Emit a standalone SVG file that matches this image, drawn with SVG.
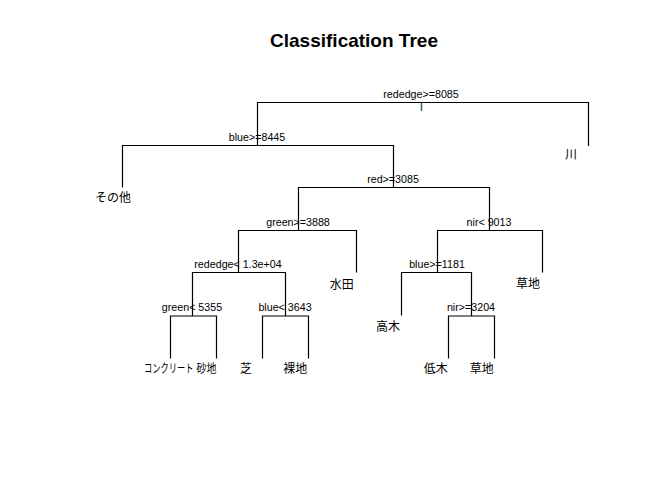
<svg xmlns="http://www.w3.org/2000/svg" width="672" height="480" viewBox="0 0 672 480">
<style>
.bg{fill:#ffffff}
.title{font-family:"Liberation Sans",Arial,sans-serif;font-weight:bold;font-size:19px;fill:#000;text-anchor:middle}
.split{font-family:"Liberation Sans",Arial,sans-serif;font-size:10.7px;fill:#000;text-anchor:middle}
.leaf{font-family:"Liberation Sans","Noto Sans CJK JP",sans-serif;font-size:12px;fill:#000;text-anchor:middle}
.leafs{font-family:"Liberation Sans","Noto Sans CJK JP",sans-serif;font-size:12px;fill:#000}
.edge{fill:none;stroke:#000;stroke-width:1.2}
.stub{fill:none;stroke:#2c6a3a;stroke-width:1.4}
</style>
<rect class="bg" x="0" y="0" width="672" height="480"/>
<text class="title" x="354" y="47">Classification Tree</text>
<g id="connectors">
<path class="stub" d="M421.5 102.5V111"/>
<path class="edge" d="M257.5 145.5V102.5H588.5V146"/>
<path class="edge" d="M122.5 187.5V145.5H393.5V187.5"/>
<path class="edge" d="M298.5 230.5V187.5H489.5V230.5"/>
<path class="edge" d="M238.5 272.5V230.5H356.5V272.5"/>
<path class="edge" d="M192.5 316V272.5H285.5V316"/>
<path class="edge" d="M170.5 358.5V316H216.5V358.5"/>
<path class="edge" d="M262.5 358.5V316H308.5V358.5"/>
<path class="edge" d="M437.5 272.5V230.5H542.5V272.5"/>
<path class="edge" d="M401.5 315.5V272.5H471.5V316"/>
<path class="edge" d="M448.5 358.5V316H494.5V358.5"/>
</g>
<g id="n1"><text class="split" x="421" y="97.5">rededge&gt;=8085</text></g>
<g id="n2"><text class="split" x="257" y="140.5">blue&gt;=8445</text></g>
<g id="n3"><text class="leaf" x="571" y="159">川</text></g>
<g id="n4"><text class="leaf" x="113" y="202">その他</text></g>
<g id="n5"><text class="split" x="393" y="182.5">red&gt;=3085</text></g>
<g id="n10"><text class="split" x="298" y="225.5">green&gt;=3888</text></g>
<g id="n11"><text class="split" x="489" y="225.5">nir&lt; 9013</text></g>
<g id="n20"><text class="split" x="238" y="267.5">rededge&lt; 1.3e+04</text></g>
<g id="n21"><text class="leaf" x="341.7" y="289">水田</text></g>
<g id="n22"><text class="split" x="437" y="267.5">blue&gt;=1181</text></g>
<g id="n23"><text class="leaf" x="528" y="288">草地</text></g>
<g id="n40"><text class="split" x="192" y="311">green&lt; 5355</text></g>
<g id="n41"><text class="split" x="285" y="311">blue&lt; 3643</text></g>
<g id="n44"><text class="leaf" x="388" y="331">高木</text></g>
<g id="n45"><text class="split" x="471" y="311">nir&gt;=3204</text></g>
<g id="n80"><text class="leafs" transform="translate(144 373) scale(0.69 1)" x="0" y="0">コンクリート</text></g>
<g id="n81"><text class="leafs" transform="translate(196.5 373) scale(0.83 1)" x="0" y="0">砂地</text></g>
<g id="n82"><text class="leaf" x="246" y="373">芝</text></g>
<g id="n83"><text class="leaf" x="295.3" y="373">裸地</text></g>
<g id="n90"><text class="leaf" x="435.7" y="373">低木</text></g>
<g id="n91"><text class="leaf" x="481.7" y="373">草地</text></g>
</svg>
